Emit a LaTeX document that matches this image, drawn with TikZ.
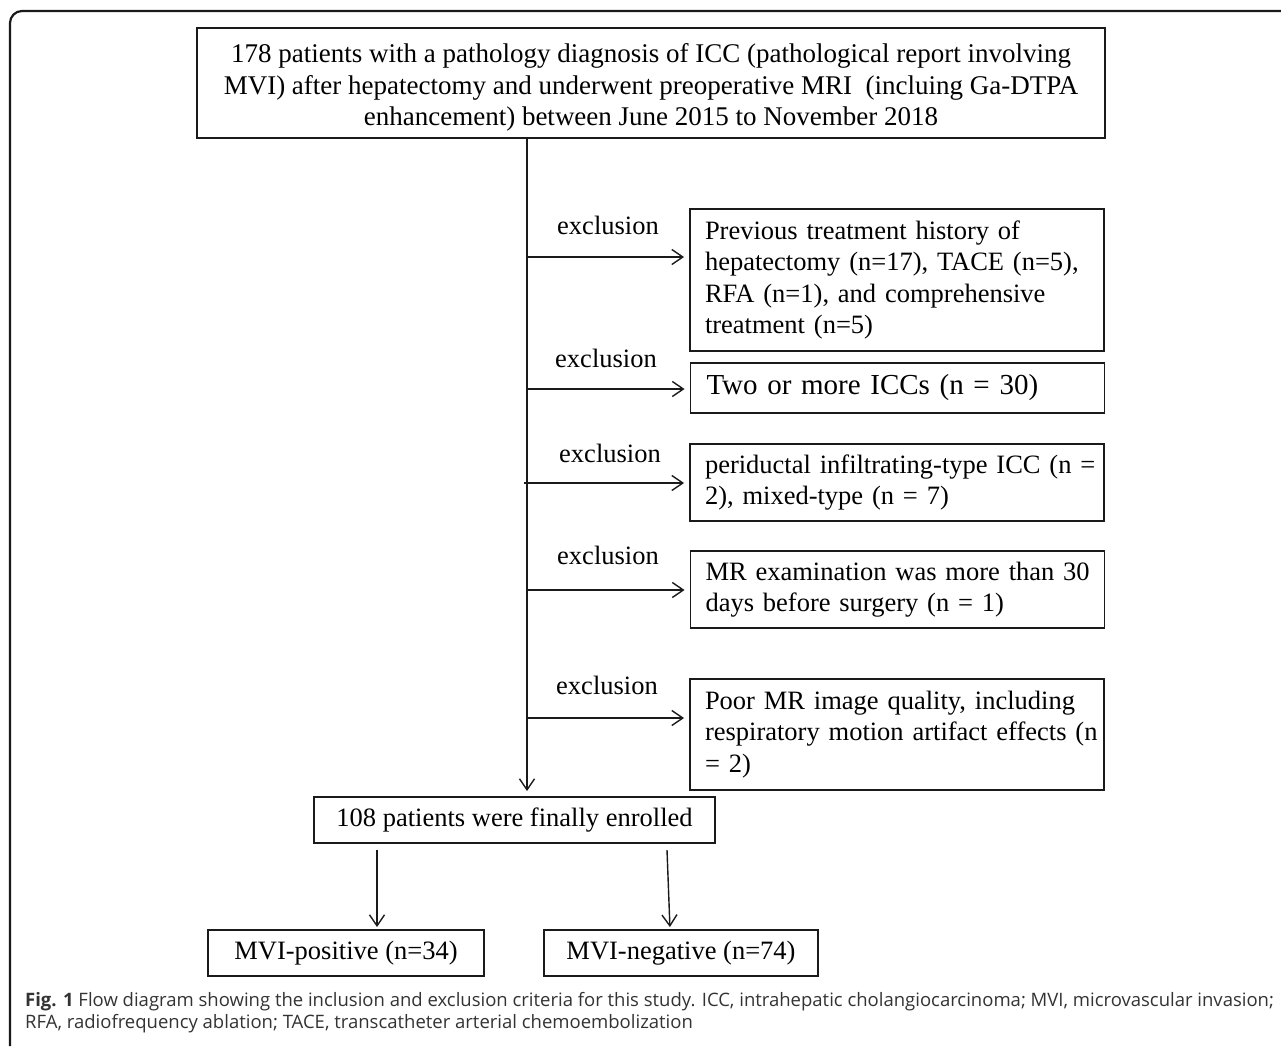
\documentclass[tikz,border=0pt]{standalone}
\usepackage{fontspec}
\setmainfont{Liberation Serif}
\newfontfamily\capfont{Open Sans}
\usetikzlibrary{arrows.meta}
\definecolor{ink}{HTML}{1A1A1A}
\definecolor{captext}{HTML}{333333}
\begin{document}
\begin{tikzpicture}[x=1pt,y=-1pt,
  box/.style={draw=ink, line width=1.9pt, rectangle, inner sep=0pt, text=black},
  xbox/.style={box, align=left, text width=384pt, inner xsep=15pt, font=\fontsize{26.5}{31.3}\selectfont},
  cbox/.style={box, align=center, font=\fontsize{26.5}{31.3}\selectfont},
  arr/.style={draw=ink, line width=1.4pt, -{Straight Barb[length=11pt,width=15pt,line width=1.4pt]}},
  exlab/.style={font=\fontsize{26.5}{30}\selectfont, inner sep=0pt},
  capline/.style={anchor=west, inner sep=0pt, text=captext, font=\capfont\fontsize{18.5}{21}\selectfont}
]
\useasboundingbox (0,0) rectangle (1281,1046);
\draw[ink, line width=2.2pt, rounded corners=12pt] (10,1046) -- (10,11) -- (1281,11);

\node[box, minimum width=908pt, minimum height=110pt, align=center, font=\fontsize{27}{31.5}\selectfont] (top) at (651,83)
 {\rule{0pt}{28pt}178 patients with a pathology diagnosis of ICC (pathological report involving\\
  MVI) after hepatectomy and underwent preoperative MRI~ (incluing Ga-DTPA\\
  enhancement) between June 2015 to November 2018};

\node[xbox, minimum height=142pt] (b1) at (897,280)
 {\mbox{Previous treatment history of}\\ \mbox{hepatectomy (n=17), TACE (n=5),}\\ \mbox{RFA (n=1), and comprehensive}\\ \mbox{treatment (n=5)}};
\node[xbox, minimum height=50pt, inner xsep=16pt, text width=382pt, font=\fontsize{29}{33}\selectfont] (b2) at (897.5,388)
 {\mbox{Two or more ICCs (n = 30)}};
\node[xbox, minimum height=77pt] (b3) at (897,482.5)
 {\mbox{periductal infiltrating-type ICC (n =}\\ \mbox{2), mixed-type (n = 7)}};
\node[xbox, minimum height=77pt] (b4) at (897.5,589.5)
 {\mbox{MR examination was more than 30}\\ \mbox{days before surgery (n = 1)}};
\node[xbox, minimum height=111pt] (b5) at (897,734.5)
 {\mbox{Poor MR image quality, including}\\ \mbox{respiratory motion artifact effects (n}\\ \mbox{= 2)}};

\node[cbox, minimum width=401pt, minimum height=46pt] (enrol) at (514.5,820) {108 patients were finally enrolled};
\node[cbox, minimum width=276pt, minimum height=46pt] (pos) at (346,953) {MVI-positive (n=34)};
\node[cbox, minimum width=274pt, minimum height=46pt] (neg) at (681,953) {MVI-negative (n=74)};

\node[exlab] (l1) at (608,225) {exclusion};
\node[exlab] (l2) at (606,358) {exclusion};
\node[exlab] (l3) at (610,453) {exclusion};
\node[exlab] (l4) at (608,555) {exclusion};
\node[exlab] (l5) at (607,685) {exclusion};

\coordinate (spine) at (527,0);
\coordinate (s1) at (527,257);
\coordinate (s2) at (527,389);
\coordinate (s3) at (524,483);
\coordinate (s4) at (527,590);
\coordinate (s5) at (527,718);
\coordinate (d1) at (377,850);
\coordinate (d2) at (667,850);
\coordinate (d2e) at (670,0);

\draw[arr, shorten >=5pt] (top.south -| spine) -- (spine |- enrol.north);
\draw[arr, shorten >=5pt] (s1) -- (s1 -| b1.west);
\draw[arr, shorten >=5pt] (s2) -- (s2 -| b2.west);
\draw[arr, shorten >=5pt] (s3) -- (s3 -| b3.west);
\draw[arr, shorten >=5pt] (s4) -- (s4 -| b4.west);
\draw[arr, shorten >=5pt] (s5) -- (s5 -| b5.west);
\draw[arr, shorten >=2pt] (d1) -- (d1 |- pos.north);
\draw[arr, shorten >=2pt] (d2) -- (d2e |- neg.north);

\node[capline] (cap1) at (25,1002) {\textbf{Fig. 1} Flow diagram showing the inclusion and exclusion criteria for this study. ICC, intrahepatic cholangiocarcinoma; MVI, microvascular invasion;};
\node[capline] (cap2) at (25,1024) {RFA, radiofrequency ablation; TACE, transcatheter arterial chemoembolization};
\end{tikzpicture}
\end{document}
